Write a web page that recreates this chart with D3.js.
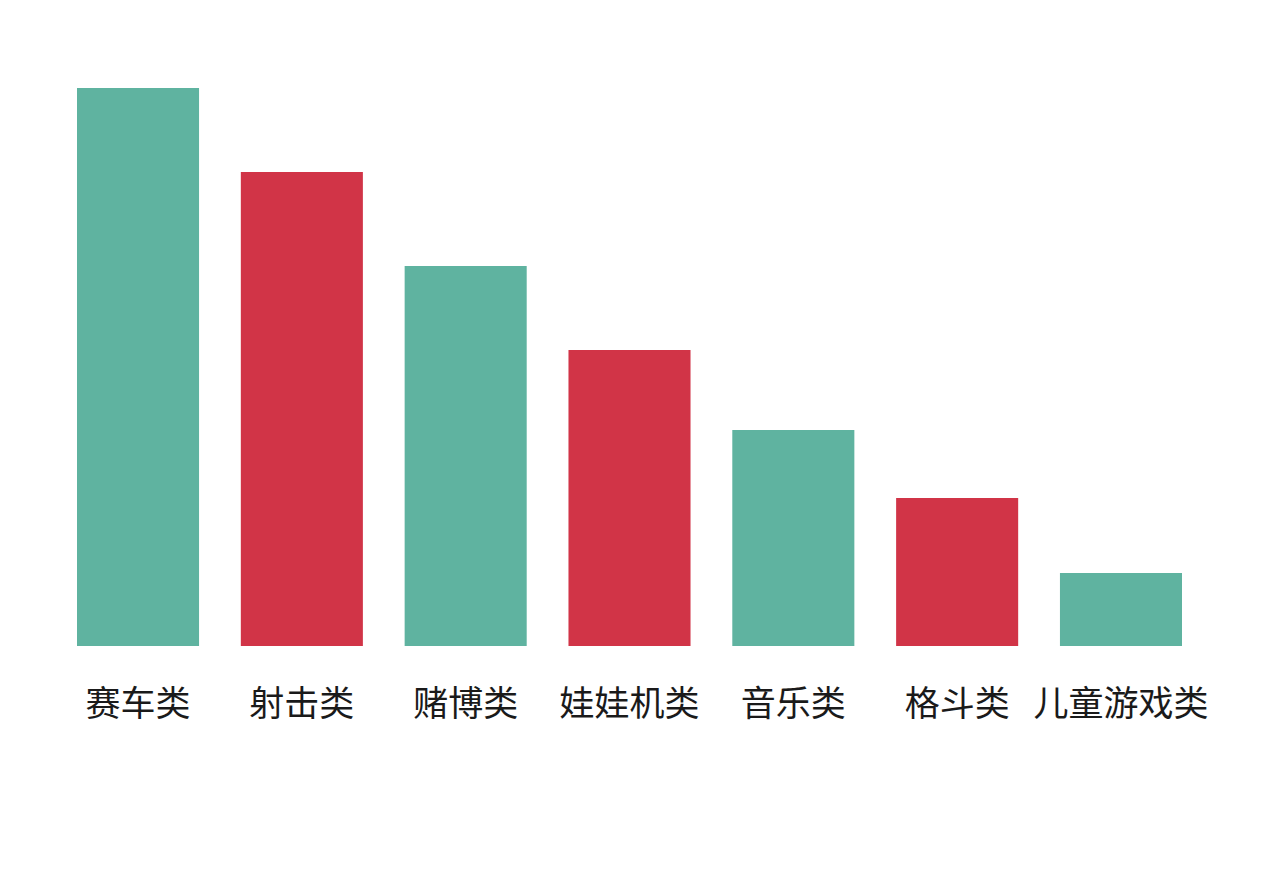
<!DOCTYPE html>
<html>
<head>
<meta charset="utf-8">
<script src="https://cdn.jsdelivr.net/npm/d3@7"></script>
<style>
  body { margin: 0; background: #fff; }
  svg text { font-family: "Noto Sans CJK SC", sans-serif; }
</style>
</head>
<body>
<svg id="chart" width="1267" height="878"></svg>
<script>
let categories = ['赛车类', '射击类', '赌博类', '娃娃机类', '音乐类', '格斗类', '儿童游戏类'];
let values = [55.8, 47.4, 38.0, 29.6, 21.6, 14.8, 7.3];
let colors = ['#5fb3a0', '#d13447'];

let svg = d3.select('#chart');

let x = d3.scaleBand()
  .domain(categories)
  .range([77, 1182])
  .paddingInner(0.255)
  .paddingOuter(0);

let y = d3.scaleLinear()
  .domain([0, 55.8])
  .range([646, 88]);

svg.append('g')
  .selectAll('rect')
  .data(values)
  .enter()
  .append('rect')
  .attr('x', (d, i) => x(categories[i]))
  .attr('y', d => y(d))
  .attr('width', x.bandwidth())
  .attr('height', d => y(0) - y(d))
  .attr('fill', (d, i) => colors[i % 2]);

svg.append('g')
  .selectAll('text')
  .data(categories)
  .enter()
  .append('text')
  .attr('x', d => x(d) + x.bandwidth() / 2)
  .attr('y', 716)
  .attr('text-anchor', 'middle')
  .attr('font-size', 35)
  .attr('fill', '#1a1a1a')
  .text(d => d);
</script>
</body>
</html>
